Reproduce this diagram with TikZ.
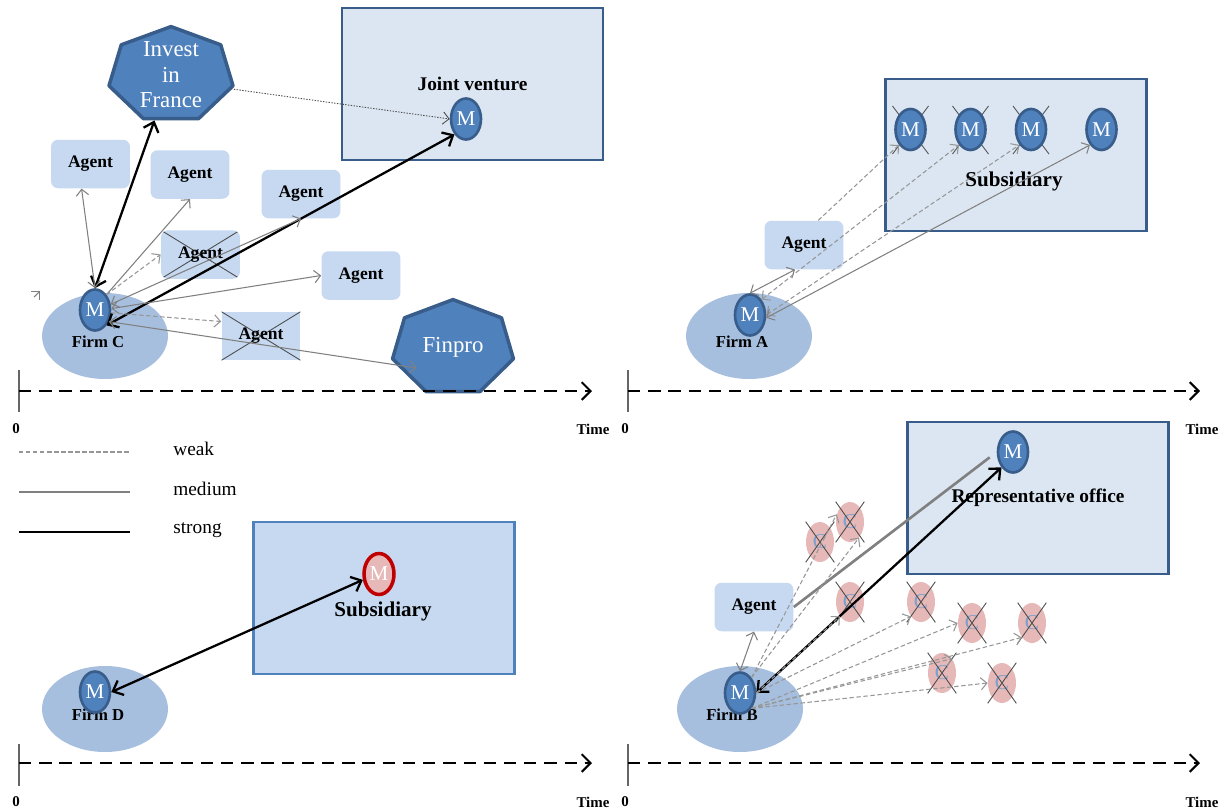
\documentclass[tikz,border=0pt]{standalone}
\usepackage{fontspec}
\setmainfont{Liberation Serif}
\usetikzlibrary{shapes.geometric,arrows.meta,calc}

\definecolor{agentblue}{RGB}{198,217,241}
\definecolor{boxfill}{RGB}{220,230,242}
\definecolor{boxborder}{RGB}{56,93,138}
\definecolor{mblue}{RGB}{79,129,189}
\definecolor{firmblue}{RGB}{167,191,222}
\definecolor{subblue}{RGB}{198,217,241}
\definecolor{subborder}{RGB}{79,129,189}
\definecolor{cpink}{RGB}{230,185,184}
\definecolor{mred}{RGB}{192,0,0}
\definecolor{linkgray}{RGB}{128,128,128}
\definecolor{weakgray}{RGB}{150,150,150}

\tikzset{
  agent/.style={fill=agentblue, rounded corners=4pt, minimum width=1.58cm, minimum height=0.97cm,
    inner sep=0pt, font=\bfseries\fontsize{10}{12}\selectfont},
  crossline/.style={draw=black!70, line width=0.5pt},
  crossed/.style={agent, path picture={\draw[crossline]
    (path picture bounding box.north west) -- (path picture bounding box.south east)
    (path picture bounding box.north east) -- (path picture bounding box.south west);}},
  venture/.style={draw=boxborder, fill=boxfill, line width=1.6pt, minimum width=5.22cm,
    minimum height=3.04cm, inner sep=0pt, font=\bfseries\fontsize{11}{13}\selectfont},
  boxlabel/.style={font=\bfseries\fontsize{12}{14}\selectfont},
  mnode/.style={ellipse, fill=mblue, draw=boxborder, line width=1.5pt, minimum width=0.6cm,
    minimum height=0.82cm, inner sep=0pt, text=white, font=\fontsize{12}{14}\selectfont},
  cnode/.style={ellipse, fill=cpink, minimum width=0.56cm, minimum height=0.8cm, inner sep=0pt,
    text=mblue!75!white, font=\fontsize{12}{14}\selectfont},
  firm/.style={ellipse, fill=firmblue, minimum width=2.52cm, minimum height=1.72cm},
  firmlabel/.style={font=\bfseries\fontsize{9.5}{11}\selectfont},
  hepta/.style={fill=mblue, draw=boxborder, line width=2pt, line join=round},
  hepttext/.style={ellipse, inner sep=0pt, align=center, text=white, font=\fontsize{13}{14.5}\selectfont},
  legend/.style={anchor=west, inner sep=0pt, font=\fontsize{11}{13}\selectfont},
  timelabel/.style={font=\bfseries\fontsize{8.5}{10}\selectfont},
  weak/.style={draw=weakgray, line width=0.6pt, dash pattern=on 2.5pt off 1.5pt},
  medium/.style={draw=linkgray, line width=0.6pt},
  strong/.style={draw=black, line width=1.3pt, >={Straight Barb[length=5pt,width=9pt]}},
  dotline/.style={draw=black!70, line width=0.5pt, dash pattern=on 0.8pt off 0.8pt},
  timeaxis/.style={draw=black, line width=1.2pt, dash pattern=on 7pt off 4.5pt,
    -{Straight Barb[length=5pt,width=10pt]}},
  tick/.style={draw=black!60, line width=0.6pt}
}

\begin{document}
\begin{tikzpicture}[x=0.02cm, y=-0.02cm, >={Straight Barb[length=3.5pt,width=7pt]}]
\path[use as bounding box, fill=white] (0,0) rectangle (1225,812);

% ---------- Firm C (top left)
\node[venture] (jv) at (472.5,84) {Joint venture};
\draw[hepta, shift={(171,75)}] (-90:63.6 and 48.4)
  \foreach \k in {1,...,6} {-- ({-90+\k*360/7}:63.6 and 48.4)} -- cycle;
\node[hepttext, minimum width=2.5cm, minimum height=1.84cm] (invest) at (171,75) {Invest\\in\\France};
\draw[hepta, shift={(453,348)}] (-90:62 and 48.4)
  \foreach \k in {1,...,6} {-- ({-90+\k*360/7}:62 and 48.4)} -- cycle;
\node[hepttext, minimum width=1.8cm, minimum height=1.4cm] (finpro) at (453,347) {Finpro};

\node[agent] (ag1) at (90.5,164) {Agent};
\node[agent] (ag2) at (190,174.5) {Agent};
\node[agent] (ag3) at (301,194) {Agent};
\node[crossed] (ag4) at (200.5,254.5) {Agent};
\node[agent] (ag5) at (361,275.5) {Agent};
\node[crossed, sharp corners] (ag6) at (261,336) {Agent};

\node[firm] (fc) at (105,336) {};
\node[firmlabel] (fclab) at (98,342) {Firm C};
\node[mnode] (mc) at (95,310) {M};
\node[mnode] (mjv) at (466,119) {M};

% links of firm C
\draw[strong, <->] (mc.north) -- (invest.250);
\draw[strong, <->] (mc.south east) -- (mjv.south west);
\draw[dotline, ->] (invest.-13) -- (mjv.west);
\draw[medium, <->] (ag1.250) -- (mc.north);
\draw[medium, ->] (mc.north east) -- (ag2.south);
\draw[weak, ->] (mc.north east) -- (ag4.west);
\draw[medium, <->] (mc.20) -- (ag3.south);
\draw[medium, <->] (mc.5) -- (ag5.west);
\draw[weak, ->] (mc.-10) -- (ag6.160);
\draw[medium, <->] (mc.-40) -- (finpro.210);
\coordinate (stray) at (34,297);
\draw[medium, ->] (stray) -- ++(6,-6);

% time axis
\coordinate (t0a) at (19,391);
\coordinate (t1a) at (592,391);
\draw[tick] (19,370) -- (19,412);
\draw[timeaxis] (t0a) -- (t1a);
\node[timelabel] (zeroa) at (16,429) {0};
\node[timelabel] (timea) at (593,429) {Time};

% ---------- Firm A (top right)
\node[venture] (subA) at (1016,155) {};
\node[boxlabel] (subAlab) at (1014,181) {Subsidiary};
\foreach \x in {910.5,970.5,1031}
  \draw[crossline] (\x-18,106) -- (\x+18,154) (\x+18,106) -- (\x-18,154);
\node[mnode] (m1) at (910.5,129.5) {M};
\node[mnode] (m2) at (970.5,129.5) {M};
\node[mnode] (m3) at (1031,129.5) {M};
\node[mnode] (m4) at (1101.5,129.5) {M};
\node[agent] (agA) at (804,245) {Agent};
\node[firm] (fa) at (749,336) {};
\node[firmlabel] (falab) at (742,342) {Firm A};
\node[mnode] (ma) at (750,315) {M};

\draw[medium, <->] (ma.north) -- (agA.250);
\draw[weak, ->] (agA.60) -- (m1.south west);
\draw[weak, <->] (ma.north east) -- (m2.south west);
\draw[weak, <->] (ma.east) -- (m3.south west);
\draw[medium, <->] (ma.-10) -- (m4.south west);

\coordinate (t0b) at (628,391);
\coordinate (t1b) at (1200,391);
\draw[tick] (628,370) -- (628,412);
\draw[timeaxis] (t0b) -- (t1b);
\node[timelabel] (zerob) at (625,429) {0};
\node[timelabel] (timeb) at (1202,429) {Time};

% ---------- legend
\draw[weak] (19,452) -- (130,452);
\node[legend] (lweak) at (173,449) {weak};
\draw[medium] (19,492) -- (130,492);
\node[legend] (lmedium) at (173,489) {medium};
\draw[strong] (19,532) -- (130,532);
\node[legend] (lstrong) at (173,530) {strong};

% ---------- Firm D (bottom left)
\node[venture, fill=subblue, draw=subborder] (subD) at (384,598) {};
\node[boxlabel] (subDlab) at (383,611) {Subsidiary};
\node[mnode, fill=cpink, draw=mred, line width=2pt] (mr) at (379,574) {M};
\node[firm] (fd) at (105,709) {};
\node[firmlabel] (fdlab) at (98,715) {Firm D};
\node[mnode] (md) at (95,692) {M};

\draw[strong, <->] (md.east) -- (mr.200);

\coordinate (t0c) at (19,763);
\coordinate (t1c) at (592,763);
\draw[tick] (19,744) -- (19,786);
\draw[timeaxis] (t0c) -- (t1c);
\node[timelabel] (zeroc) at (16,802) {0};
\node[timelabel] (timec) at (593,802) {Time};

% ---------- Firm B (bottom right)
\node[venture] (rep) at (1038,498) {Representative office};
\node[mnode] (mrep) at (1013,452) {M};
\node[agent] (agB) at (754,607) {Agent};
\node[firm] (fb) at (740,709) {};
\node[firmlabel] (fblab) at (732,715) {Firm B};
\node[mnode] (mb) at (740,693) {M};
\foreach \i/\x/\y in {1/820/542, 2/850/522, 3/850/602, 4/921/602,
                      5/972/623, 6/1032/623, 7/942/673, 8/1002/683}
  \node[cnode] (c\i) at (\x,\y) {C};
\foreach \i in {1,...,8}
  \draw[crossline] (c\i.north -| c\i.west) -- (c\i.south -| c\i.east)
                   (c\i.north -| c\i.east) -- (c\i.south -| c\i.west);

\draw[medium, <->] (mb.north) -- (agB.south);
\draw[linkgray, line width=1.5pt, shorten >=5pt] (agB.east) -- (mrep.west);
\draw[strong, <->] (mb.east) -- (mrep.south west);
\draw[weak, ->] (mb.north east) -- (c2.150);
\draw[weak, ->] (mb.north east) -- (c2.300);
\draw[weak, ->] (mb.east) -- (c3.south west);
\draw[weak, ->] (mb.east) -- (c4.south west);
\draw[weak, ->] (mb.south east) -- (c5.west);
\draw[weak, ->] (mb.south east) -- (c6.south west);
\draw[weak, ->] (mb.south east) -- (c7.north east);
\draw[weak, ->] (mb.south east) -- (c8.west);

\coordinate (t0d) at (628,763);
\coordinate (t1d) at (1200,763);
\draw[tick] (628,744) -- (628,786);
\draw[timeaxis] (t0d) -- (t1d);
\node[timelabel] (zerod) at (625,802) {0};
\node[timelabel] (timed) at (1202,802) {Time};
\end{tikzpicture}
\end{document}
